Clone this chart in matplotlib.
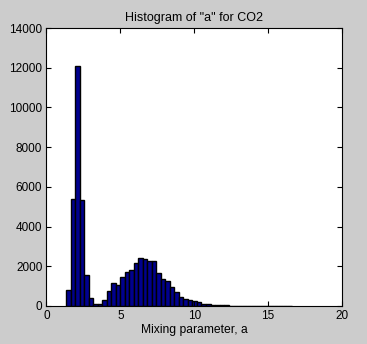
import numpy as np
import matplotlib.pyplot as plt

plt.rcParams['font.family'] = ['Liberation Sans', 'DejaVu Sans']

# histogram data (50 bins)
bin_lo = 1.32
bin_hi = 16.6
counts = [800, 5370, 12090, 5340, 1560, 420, 120, 120, 280, 730,
          1140, 1080, 1470, 1730, 1790, 2180, 2400, 2350, 2280, 2280,
          1680, 1340, 1240, 960, 710, 470, 360, 300, 250, 200,
          90, 85, 50, 50, 50, 25, 20, 15, 15, 10,
          10, 10, 8, 6, 5, 0, 3, 3, 0, 2]
x_ticks = [0, 5, 10, 15, 20]
y_ticks = [0, 2000, 4000, 6000, 8000, 10000, 12000, 14000]

edges = np.linspace(bin_lo, bin_hi, len(counts) + 1)

fig = plt.figure(figsize=(3.67, 3.44), dpi=100, facecolor='#cccccc')
ax = fig.add_axes([0.1267, 0.1105, 0.8053, 0.8081])

# barras do histograma
ax.hist(edges[:-1], bins=edges, weights=counts,
        color='#00008f', edgecolor='black', linewidth=1.0)

ax.set_xlim(0, 20)
ax.set_ylim(0, 14000)
ax.set_xticks(x_ticks)
ax.set_yticks(y_ticks)
ax.tick_params(direction='in', length=3.5, top=True, right=True,
               labelsize=8.5, width=0.8, pad=3)
for s in ax.spines.values():
    s.set_linewidth(0.8)

ax.set_title('Histogram of "a" for CO2', fontsize=9, pad=5)
ax.set_xlabel('Mixing parameter, a', fontsize=8.7, labelpad=1)

fig.savefig('out.png', dpi=100, facecolor=fig.get_facecolor())
